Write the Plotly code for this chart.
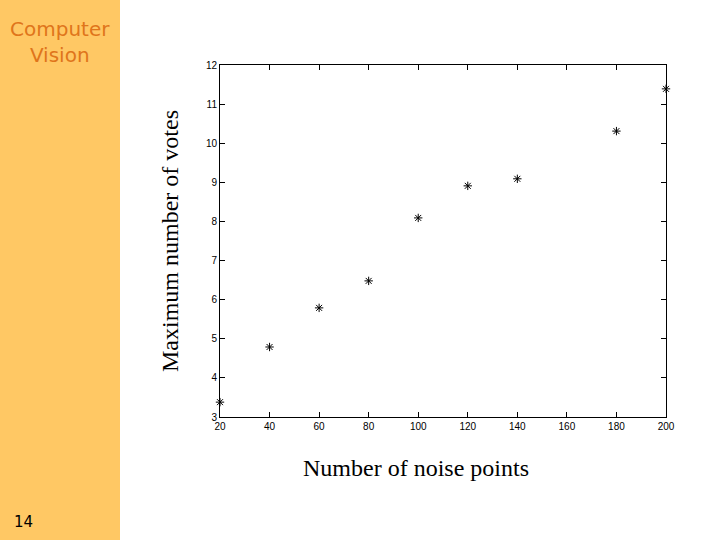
import plotly.graph_objects as go

# data
noise_points = [20, 40, 60, 80, 100, 120, 140, 180, 200]
max_votes = [3.38, 4.79, 5.79, 6.48, 8.09, 8.91, 9.09, 10.31, 11.39]

x_ticks = [20, 40, 60, 80, 100, 120, 140, 160, 180, 200]
y_ticks = [3, 4, 5, 6, 7, 8, 9, 10, 11, 12]

_sidebar_color = "#FFC864"
_title_color = "#E0751B"

fig = go.Figure()

fig.add_trace(go.Scatter(
    x=noise_points, y=max_votes, mode="markers",
    marker=dict(symbol="asterisk-open", size=7, color="black",
                line=dict(color="black", width=1)),
    showlegend=False, cliponaxis=False,
))

# slide sidebar (paper coords relative to the plot area)
fig.add_shape(type="rect", xref="paper", yref="paper",
              x0=-220 / 446, x1=-100 / 446, y0=-123 / 352, y1=1 + 65 / 352,
              fillcolor=_sidebar_color, line_width=0, layer="below")

fig.add_annotation(xref="paper", yref="paper", x=-160 / 446, y=1 + 23 / 352,
                   text="Computer<br>Vision", showarrow=False,
                   xanchor="center", yanchor="middle",
                   font=dict(family="DejaVu Sans", size=20, color=_title_color),
                   align="center")
fig.add_annotation(xref="paper", yref="paper", x=-197 / 446, y=-105 / 352,
                   text="14", showarrow=False, xanchor="center", yanchor="middle",
                   font=dict(family="DejaVu Sans", size=15, color="black"))

# x title sits left of the plot centre in the reference
fig.add_annotation(xref="paper", yref="paper", x=(416 - 220) / 446, y=-51 / 352,
                   text="Number of noise points", showarrow=False,
                   xanchor="center", yanchor="middle",
                   font=dict(family="Liberation Serif", size=24, color="black"))

axis_common = dict(showgrid=False, zeroline=False, showline=True,
                   linecolor="black", linewidth=1, mirror="ticks",
                   ticks="inside", ticklen=5, tickcolor="black",
                   tickfont=dict(family="Liberation Sans", size=10, color="black"))

fig.update_xaxes(range=[20, 200], tickvals=x_ticks, **axis_common)
fig.update_yaxes(range=[3, 12], tickvals=y_ticks,
                 title=dict(text="Maximum number of votes", standoff=20,
                            font=dict(family="Liberation Serif", size=24, color="black")),
                 **axis_common)

fig.update_layout(
    width=720, height=540,
    margin=dict(l=220, r=54, t=65, b=123),
    plot_bgcolor="white", paper_bgcolor="white",
)

fig.write_html("out.html", config={"displayModeBar": False},
               post_script="document.body.style.margin='0px';")
